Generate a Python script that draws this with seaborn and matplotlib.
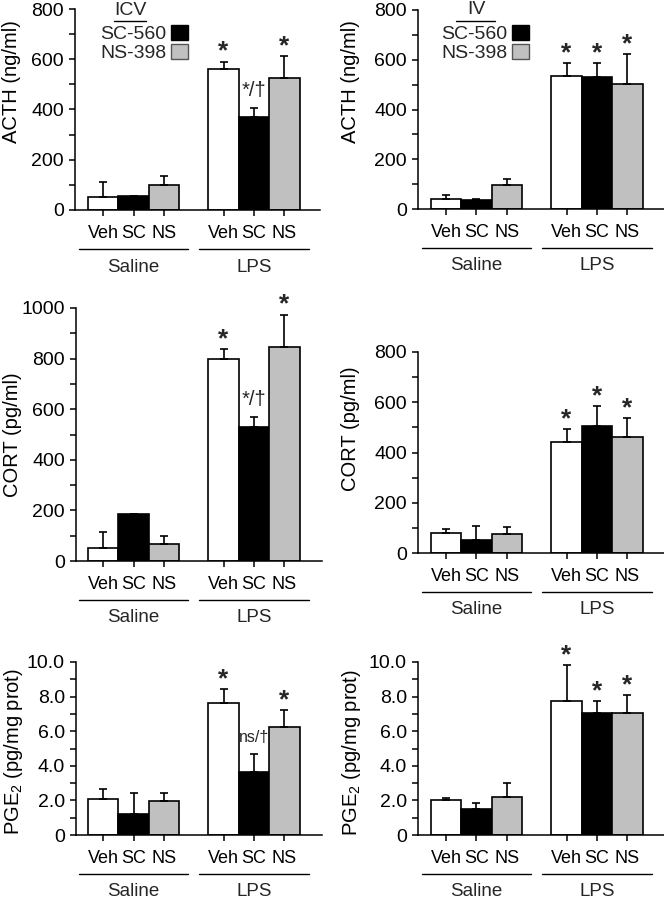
import numpy as np
import pandas as pd
import matplotlib
matplotlib.use('Agg')
import matplotlib.pyplot as plt
import seaborn as sns
from matplotlib.patches import Patch
from matplotlib.transforms import ScaledTranslation

# ---------------- data ----------------
groups = ['Saline', 'LPS']
drugs = ['Veh', 'SC', 'NS']
legend_labels = ['SC-560', 'NS-398']

# order: Saline Veh, SC, NS, LPS Veh, SC, NS
acth_icv = [53, 55, 98, 562, 370, 526]
acth_icv_sem = [59, 0, 38, 29, 37, 86]
acth_icv_marks = ['', '', '', '*', '*/†', '*']

acth_iv = [42, 38, 95, 534, 529, 503]
acth_iv_sem = [14, 3, 27, 51, 57, 121]
acth_iv_marks = ['', '', '', '*', '*', '*']

cort_icv = [53, 184, 69, 798, 528, 844]
cort_icv_sem = [62, 0, 29, 40, 40, 130]
cort_icv_marks = ['', '', '', '*', '*/†', '*']

cort_iv = [79, 53, 75, 440, 505, 463]
cort_iv_sem = [16, 53, 27, 52, 80, 73]
cort_iv_marks = ['', '', '', '*', '*', '*']

pge_icv = [2.08, 1.19, 1.98, 7.63, 3.62, 6.25]
pge_icv_sem = [0.57, 1.26, 0.46, 0.83, 1.05, 0.96]
pge_icv_marks = ['', '', '', '*', 'ns/†', '*']

pge_iv = [2.02, 1.48, 2.21, 7.75, 7.08, 7.06]
pge_iv_sem = [0.13, 0.35, 0.77, 2.06, 0.65, 1.02]
pge_iv_marks = ['', '', '', '*', '*', '*']

acth_ticks = [0, 200, 400, 600, 800]
cort_icv_ticks = [0, 200, 400, 600, 800, 1000]
cort_iv_ticks = [0, 200, 400, 600, 800]
pge_ticks = [0, 2, 4, 6, 8, 10]
pge_ticklabels = ['0', '2.0', '4.0', '6.0', '8.0', '10.0']

colors = ['white', 'black', '#c0c0c0']

# ---------------- style ----------------
sns.set_style('ticks')
plt.rcParams['font.family'] = ['Liberation Sans', 'DejaVu Sans']
plt.rcParams['mathtext.fontset'] = 'custom'
plt.rcParams['mathtext.rm'] = 'Liberation Sans'
plt.rcParams['mathtext.default'] = 'regular'

W, H = 664, 899
fig = plt.figure(figsize=(W / 100, H / 100), dpi=100)
UNIT = 120.5  # px per category unit


def make_axes(L, R, ytop, y0):
    return fig.add_axes([L / W, 1 - y0 / H, (R - L) / W, (y0 - ytop) / H])


def panel(ax, vals, sems, marks, c0, L, R, ylim, major, majorlabels, minor,
          ylabel, lab_xy):
    df = pd.DataFrame({'group': np.repeat(groups, 3),
                       'drug': drugs * 2,
                       'value': vals})
    sns.barplot(data=df, x='group', y='value', hue='drug', order=groups,
                hue_order=drugs, palette=colors, saturation=1, width=0.759,
                gap=0, errorbar=None, legend=False, edgecolor='black',
                linewidth=1.2, ax=ax)
    bars = sorted(ax.patches, key=lambda p: p.get_x())
    xs = np.array([p.get_x() + p.get_width() / 2 for p in bars])
    hs = np.array([p.get_height() for p in bars])
    se = np.array(sems, dtype=float)
    ax.errorbar(xs, hs, yerr=[np.zeros(len(se)), se], fmt='none',
                ecolor='black', elinewidth=1.2, capsize=3, capthick=1.2,
                zorder=3)
    for x, top, m in zip(xs, hs + se, marks):
        if not m:
            continue
        if m == '*':
            ax.annotate(m, xy=(x, top), xytext=(0, 2), textcoords='offset points',
                        ha='center', va='baseline', fontsize=19,
                        fontweight='bold', annotation_clip=False)
        else:
            fs = 14.5 if m.startswith('*') else 11.5
            ax.annotate(m, xy=(x, top), xytext=(0, 8.5), textcoords='offset points',
                        ha='center', va='baseline', fontsize=fs,
                        annotation_clip=False)

    ax.set_xlim((L - c0) / UNIT, (R - c0) / UNIT)
    ax.set_ylim(*ylim)
    ax.set_xticks(xs)
    ax.set_xticklabels(drugs * 2)
    ax.set_yticks(major)
    ax.set_yticklabels(majorlabels)
    ax.set_yticks(minor, minor=True)
    ax.tick_params(axis='both', which='both', direction='out', length=4,
                   width=1.1, color='black', labelcolor='black')
    ax.tick_params(axis='x', pad=7, labelsize=13)
    ax.tick_params(axis='y', pad=4, labelsize=14)
    ax.set_xlabel('')
    ax.set_ylabel(ylabel, fontsize=14.5, color='black')
    ax.yaxis.label.set_va('center')
    ax.yaxis.set_label_coords(*lab_xy)
    for s in ['top', 'right']:
        ax.spines[s].set_visible(False)
    for s in ['left', 'bottom']:
        ax.spines[s].set_linewidth(1.1)
        ax.spines[s].set_color('black')
    ax.set_facecolor('white')

    line_tr = ax.get_xaxis_transform() + ScaledTranslation(0, -0.385, fig.dpi_scale_trans)
    text_tr = ax.get_xaxis_transform() + ScaledTranslation(0, -0.615, fig.dpi_scale_trans)
    for gi, g in enumerate(groups):
        gc = xs[gi * 3:(gi + 1) * 3].mean()
        ax.plot([gc - 0.456, gc + 0.456], [0, 0], transform=line_tr,
                color='black', lw=1.0, clip_on=False)
        ax.text(gc, 0, g, transform=text_tr, ha='center', va='baseline',
                fontsize=13.5)


def legend(ax, title, tx, ty, ux0, ux1, uy, lx, ly):
    ax.text(tx, ty, title, transform=ax.transAxes, ha='center', va='center',
            fontsize=14)
    ax.plot([ux0, ux1], [uy, uy], transform=ax.transAxes, color='black',
            lw=1.0, clip_on=False)
    handles = [Patch(facecolor='black', edgecolor='black', lw=1),
               Patch(facecolor='#c0c0c0', edgecolor='#555555', lw=1)]
    ax.legend(handles=handles, labels=legend_labels, loc='upper right',
              bbox_to_anchor=(lx, ly), markerfirst=False, frameon=False,
              fontsize=14, handlelength=0.85, handleheight=0.8,
              handletextpad=0.25, labelspacing=0.05, borderpad=0,
              borderaxespad=0)


# left column: c0 = 133.5 px ; right column: c0 = 476.5 px
ax1 = make_axes(75, 320, 9, 210)
panel(ax1, acth_icv, acth_icv_sem, acth_icv_marks, 133.5, 75, 320, (0, 800),
      acth_ticks, [str(t) for t in acth_ticks], [100, 300, 500, 700],
      'ACTH (ng/ml)', (-0.261, 0.64))
legend(ax1, 'ICV', 0.2245, 0.995, 0.159, 0.290, 0.940, 0.461, 0.92)

ax2 = make_axes(418, 664, 10, 209)
panel(ax2, acth_iv, acth_iv_sem, acth_iv_marks, 476.5, 418, 664, (0, 800),
      acth_ticks, [str(t) for t in acth_ticks], [100, 300, 500, 700],
      'ACTH (ng/ml)', (-0.276, 0.64))
legend(ax2, 'IV', 0.236, 1.0, 0.154, 0.313, 0.945, 0.451, 0.925)

ax3 = make_axes(76, 322, 308, 561)
panel(ax3, cort_icv, cort_icv_sem, cort_icv_marks, 133.5, 76, 322, (0, 1000),
      cort_icv_ticks, [str(t) for t in cort_icv_ticks],
      [100, 300, 500, 700, 900], 'CORT (pg/ml)', (-0.26, 0.50))

ax4 = make_axes(418, 664, 352, 553)
panel(ax4, cort_iv, cort_iv_sem, cort_iv_marks, 476.5, 418, 664, (0, 800),
      cort_iv_ticks, [str(t) for t in cort_iv_ticks], [100, 300, 500, 700],
      'CORT (pg/ml)', (-0.276, 0.617))

ax5 = make_axes(76, 322, 662, 835)
panel(ax5, pge_icv, pge_icv_sem, pge_icv_marks, 133.5, 76, 322, (0, 10),
      pge_ticks, pge_ticklabels, [1, 3, 5, 7, 9],
      'PGE$_2$ (pg/mg prot)', (-0.256, 0.48))

ax6 = make_axes(418, 664, 662, 835)
panel(ax6, pge_iv, pge_iv_sem, pge_iv_marks, 476.5, 418, 664, (0, 10),
      pge_ticks, pge_ticklabels, [1, 3, 5, 7, 9],
      'PGE$_2$ (pg/mg prot)', (-0.272, 0.474))

fig.savefig('out.png', dpi=100, facecolor='white')
